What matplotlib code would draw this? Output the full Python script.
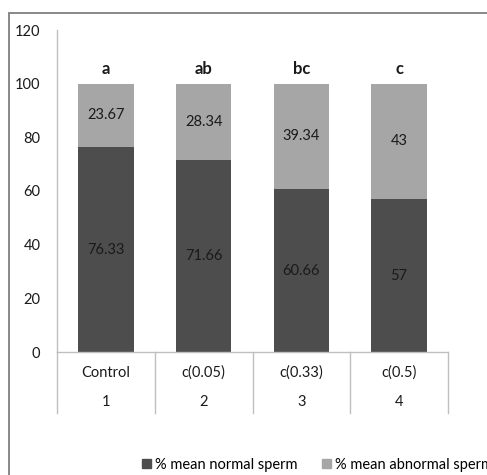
import matplotlib.pyplot as plt
from matplotlib.patches import Patch, Rectangle
from matplotlib.transforms import blended_transform_factory

# values
groups = ["Control", "c(0.05)", "c(0.33)", "c(0.5)"]
group_numbers = ["1", "2", "3", "4"]
normal = [76.33, 71.66, 60.66, 57]
abnormal = [23.67, 28.34, 39.34, 43]
normal_labels = ["76.33", "71.66", "60.66", "57"]
abnormal_labels = ["23.67", "28.34", "39.34", "43"]
letters = ["a", "ab", "bc", "c"]

dark = "#4d4d4d"
light = "#a6a6a6"
axis_grey = "#bfbfbf"

plt.rcParams["font.family"] = ["Lato", "DejaVu Sans"]
plt.rcParams["font.size"] = 10.5

W, H = 487, 475
fig = plt.figure(figsize=(W / 100, H / 100), dpi=100)

# plot area in pixels: y-axis at x=57, right end 448, y=0 at 352, y=120 at 30
ax = fig.add_axes([57 / W, (H - 352) / H, (448 - 57) / W, (352 - 30) / H])

x = list(range(len(groups)))
width = 0.57
ax.bar(x, normal, width, color=dark, label="% mean normal sperm")
ax.bar(x, abnormal, width, bottom=normal, color=light, label="% mean abnormal sperm")

for i in x:
    ax.text(i, normal[i] / 2, normal_labels[i], ha="center", va="center", color="#1a1a1a")
    ax.text(i, normal[i] + abnormal[i] / 2, abnormal_labels[i], ha="center", va="center", color="#1a1a1a")
    ax.text(i, normal[i] + abnormal[i] + 2.5, letters[i], ha="center", va="bottom",
            fontweight="bold", fontsize=12, color="#1a1a1a")

ax.set_xlim(-0.5, len(groups) - 0.5)
ax.set_ylim(0, 120)
ax.set_yticks(range(0, 121, 20))
ax.tick_params(axis="y", length=0, pad=12, labelcolor="#1a1a1a")
ax.set_xticks([])

for side in ["top", "right"]:
    ax.spines[side].set_visible(False)
for side in ["left", "bottom"]:
    ax.spines[side].set_color(axis_grey)
    ax.spines[side].set_linewidth(1)

# two-level category axis drawn under the plot
trans = blended_transform_factory(ax.transData, ax.transAxes)
ax_h = 352 - 30
for b in [i - 0.5 for i in range(len(groups) + 1)]:
    ax.plot([b, b], [0, -(413 - 352) / ax_h], color=axis_grey, lw=1,
            transform=trans, clip_on=False)
for i in x:
    ax.text(i, -(373 - 352) / ax_h, groups[i], ha="center", va="center",
            transform=trans, color="#1a1a1a")
    ax.text(i, -(402 - 352) / ax_h, group_numbers[i], ha="center", va="center",
            transform=trans, color="#1a1a1a")

handles = [Patch(color=dark, label="% mean normal sperm"),
           Patch(color=light, label="% mean abnormal sperm")]
fig.legend(handles=handles, loc="center left", bbox_to_anchor=(136 / W, 10 / H),
           ncol=2, frameon=False, handlelength=0.6, handleheight=0.6,
           handletextpad=0.3, columnspacing=1.7, borderaxespad=0)

# outer chart frame, cropped on the right and bottom like the reference
fig.add_artist(Rectangle((9 / W, -0.1), 1.2, 1.1 - 13 / H, transform=fig.transFigure,
                         fill=False, edgecolor="#7f7f7f", lw=1.3))

fig.savefig("out.png", dpi=100)
